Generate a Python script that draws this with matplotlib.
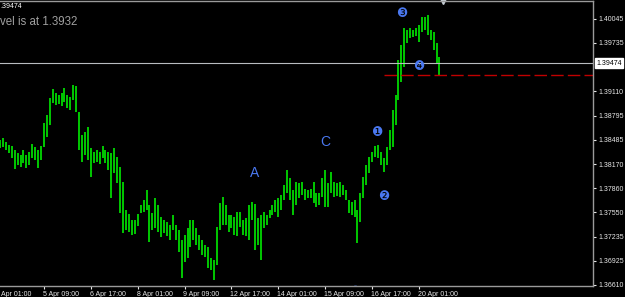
import matplotlib.pyplot as plt
from matplotlib.transforms import blended_transform_factory


# H1 chart, one entry every 2 hours (bar index = hours since 4 Apr 01:00 / 2)
BAR_START = 1
BAR_HIGH = [
    1.38482, 1.38508, 1.38456, 1.38418, 1.38405, 1.38353, 1.38314, 1.38288, 1.38353, 1.38288,
    1.38327, 1.38430, 1.38392, 1.38353, 1.38405, 1.38702, 1.38805, 1.39024, 1.39141, 1.39089,
    1.39063, 1.39089, 1.39154, 1.39063, 1.39037, 1.39192, 1.39179, 1.38844, 1.38547, 1.38585,
    1.38650, 1.38379, 1.38327, 1.38353, 1.38327, 1.38405, 1.38353, 1.38327, 1.38314, 1.38379,
    1.38263, 1.38133, 1.37940, 1.37578, 1.37526, 1.37449, 1.37449, 1.37526, 1.37643, 1.37707,
    1.37836, 1.37643, 1.37539, 1.37733, 1.37643, 1.37488, 1.37449, 1.37423, 1.37384, 1.37514,
    1.37384, 1.37320, 1.37191, 1.37255, 1.37346, 1.37449, 1.37449, 1.37346, 1.37255, 1.37191,
    1.37126, 1.37100, 1.36958, 1.36932, 1.37359, 1.37669, 1.37746, 1.37643, 1.37514, 1.37514,
    1.37488, 1.37552, 1.37552, 1.37449, 1.37475, 1.37643, 1.37681, 1.37656, 1.37475, 1.37514,
    1.37552, 1.37514, 1.37578, 1.37643, 1.37707, 1.37733, 1.37772, 1.37901, 1.38095, 1.37991,
    1.37836, 1.37940, 1.37927, 1.37940, 1.37849, 1.37836, 1.37849, 1.37940, 1.37798, 1.37798,
    1.37991, 1.38095, 1.37927, 1.38069, 1.37940, 1.37927, 1.37940, 1.37901, 1.37836, 1.37707,
    1.37681, 1.37707, 1.37578, 1.37798, 1.38004, 1.38159, 1.38263, 1.38327, 1.38405, 1.38418,
    1.38327, 1.38250, 1.38392, 1.38611, 1.38870, 1.39063, 1.39515, 1.39709, 1.39928, 1.39903,
    1.39928, 1.39903, 1.39928, 1.39967, 1.40071, 1.40071, 1.40096, 1.39903, 1.39877, 1.39735,
    1.39554,
]
BAR_LOW = [
    1.38379, 1.38392, 1.38353, 1.38314, 1.38250, 1.38108, 1.38159, 1.38133, 1.38185, 1.38120,
    1.38159, 1.38250, 1.38224, 1.38120, 1.38224, 1.38392, 1.38521, 1.38676, 1.38960, 1.38934,
    1.38947, 1.38921, 1.38973, 1.38895, 1.38870, 1.38999, 1.38844, 1.38353, 1.38198, 1.38288,
    1.38224, 1.38004, 1.38185, 1.38198, 1.38172, 1.38250, 1.38185, 1.38095, 1.37733, 1.38056,
    1.37927, 1.37539, 1.37281, 1.37320, 1.37294, 1.37255, 1.37268, 1.37371, 1.37539, 1.37552,
    1.37578, 1.37165, 1.37320, 1.37346, 1.37294, 1.37229, 1.37281, 1.37242, 1.37191, 1.37320,
    1.37191, 1.37036, 1.36700, 1.36907, 1.36958, 1.37100, 1.37191, 1.37126, 1.37062, 1.36997,
    1.36971, 1.36829, 1.36803, 1.36674, 1.36868, 1.37320, 1.37384, 1.37384, 1.37294, 1.37346,
    1.37255, 1.37242, 1.37359, 1.37255, 1.37242, 1.37191, 1.37449, 1.37062, 1.37126, 1.36932,
    1.37346, 1.37384, 1.37475, 1.37514, 1.37552, 1.37488, 1.37578, 1.37707, 1.37798, 1.37707,
    1.37514, 1.37643, 1.37733, 1.37772, 1.37707, 1.37733, 1.37733, 1.37669, 1.37617, 1.37643,
    1.37746, 1.37617, 1.37617, 1.37798, 1.37746, 1.37759, 1.37746, 1.37772, 1.37707, 1.37539,
    1.37514, 1.37488, 1.37152, 1.37423, 1.37733, 1.37901, 1.38056, 1.38198, 1.38263, 1.38250,
    1.38159, 1.38069, 1.38159, 1.38353, 1.38392, 1.38676, 1.38999, 1.39231, 1.39425, 1.39735,
    1.39799, 1.39812, 1.39825, 1.39748, 1.39877, 1.39903, 1.39838, 1.39773, 1.39644, 1.39476,
    1.39321,
]

# first label is cut by the window edge in the terminal, only "Apr 01:00" shows
TIME_TICKS = [0, 16, 32, 48, 64, 80, 96, 112, 128, 144]
TIME_LABELS = [
    "Apr 01:00", "5 Apr 09:00", "6 Apr 17:00", "8 Apr 01:00", "9 Apr 09:00",
    "12 Apr 17:00", "14 Apr 01:00", "15 Apr 09:00", "16 Apr 17:00", "20 Apr 01:00",
]
PRICE_TICKS = [
    1.40045, 1.39735, 1.39110, 1.38795, 1.38485, 1.38170,
    1.37860, 1.37550, 1.37235, 1.36925, 1.36610,
]

BID_PRICE = 1.39474
LEVEL_PRICE = 1.3932
LEVEL_START = 132

# wave labels: (text, bar, price)
WAVE_NUMBERS = [("❶", 129.5, 1.38585), ("❷", 132.0, 1.37759), ("❸", 138.2, 1.40110), ("❹", 144.0, 1.39425)]
WAVE_LETTERS = [("A", 88.0, 1.38050), ("C", 112.0, 1.38450)]

BLUE = "#4a78f0"
SMALL = ["Liberation Sans", "DejaVu Sans"]


def make_chart():
    fig = plt.figure(figsize=(6.25, 2.97), dpi=100, facecolor="black")
    ax = fig.add_axes([0, 11 / 297, 593 / 625, 285 / 297], facecolor="black")

    bars = range(BAR_START, BAR_START + len(BAR_HIGH))
    ax.vlines(list(bars), BAR_LOW, BAR_HIGH, color="#00ff00", linewidth=1.1)

    ax.axhline(BID_PRICE, color="#b8bcc0", linewidth=0.8)
    ax.plot([LEVEL_START, 210], [LEVEL_PRICE, LEVEL_PRICE], color="#c00000",
            linewidth=1.0, dashes=(9, 3))

    for text, x, y in WAVE_NUMBERS:
        ax.text(x, y, text, color=BLUE, fontsize=9, ha="center", va="center",
                family=["DejaVu Sans"])
    for text, x, y in WAVE_LETTERS:
        ax.text(x, y, text, color=BLUE, fontsize=10, ha="center", va="center",
                family=SMALL)

    # marker cut off by the bottom border
    ax.plot([122.2], [1.36540], "o", color=BLUE, markersize=6, clip_on=True)
    # shift marker at the top
    ax.plot([152.2], [1], "v", color="#c8d0d8", markersize=4.5,
            transform=blended_transform_factory(ax.transData, ax.transAxes), clip_on=False)

    ax.set_xlim(0.99, 203.4)
    ax.set_ylim(1.36597, 1.40277)

    for side in ["top", "right", "bottom"]:
        ax.spines[side].set_color("#9a9a9a")
        ax.spines[side].set_linewidth(1.0)
    ax.spines["left"].set_visible(False)

    ax.yaxis.tick_right()
    ax.set_yticks(PRICE_TICKS)
    ax.set_yticklabels([f"{p:.5f}" for p in PRICE_TICKS])
    ax.tick_params(axis="y", colors="#e8e8e8", length=2.5, width=0.8, pad=1.5, labelsize=5)
    for label in ax.get_yticklabels():
        label.set_family(SMALL)

    ax.set_xticks(TIME_TICKS[1:])
    ax.set_xticklabels([])
    ax.tick_params(axis="x", colors="#e8e8e8", length=2.5, width=0.8)
    xtrans = ax.get_xaxis_transform()
    for pos, label in zip(TIME_TICKS, TIME_LABELS):
        xpos = max(pos - 0.4, 1.35)
        ax.text(xpos, -0.017, label, transform=xtrans, ha="left", va="top",
                color="#e8e8e8", fontsize=5, family=SMALL, clip_on=False)

    ax.text(596 / 593, (BID_PRICE - 1.36597) / (1.40277 - 1.36597), f"{BID_PRICE:.5f}",
            transform=ax.transAxes, ha="left", va="center", color="black", fontsize=5,
            family=SMALL,
            bbox=dict(boxstyle="square,pad=0.2", facecolor="white", edgecolor="white"))

    # top-left corner texts, their left part is outside the window in the reference
    fig.text(0.5 / 625, 1 - 7 / 297, f"{BID_PRICE:.5f}"[1:], color="white", fontsize=5,
             family=SMALL, ha="left", va="center")
    fig.text(0, 1 - 22 / 297, "vel is at 1.3932", color="#a0a0a0", fontsize=8.3,
             family=SMALL, ha="left", va="center")

    fig.savefig("out.png", dpi=100, facecolor="black")
    plt.close(fig)


def main():
    make_chart()


if __name__ == "__main__":
    main()
